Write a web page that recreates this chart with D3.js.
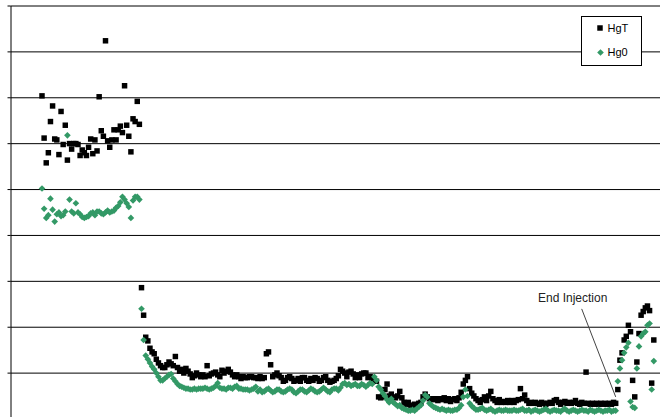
<!DOCTYPE html>
<html>
<head>
<meta charset="utf-8">
<script src="https://cdn.jsdelivr.net/npm/d3@7"></script>
<style>
  body { margin: 0; background: #fff; }
  svg { display: block; font-family: "Liberation Sans", Arial, sans-serif; }
</style>
</head>
<body>
<div id="chart"></div>
<script>
// Mercury concentrations, one value per sample
const hgT = [
  35.1, 30.5, 27.8, 28.9, 32.3, 34.0, 30.4, 30.3, 28.7, 33.4,
  29.8, 31.9, 28.1, 29.9, 29.3, 29.9, 29.9, 29.8, 28.6, 29.2,
  28.9, 28.6, 29.5, 30.4, 28.8, 30.3, 29.1, 35.0, 31.3, 30.7,
  41.1, 30.2, 29.5, 30.3, 31.4, 30.3, 31.4, 31.8, 31.1, 36.2,
  31.9, 30.7, 29.0, 32.6, 32.3, 34.5, 32.0,
  14.2, 11.2, 8.8, 8.4, 7.6, 7.2, 7.0, 6.4, 6.0, 5.7,
  5.5, 5.5, 5.8, 6.1, 5.9, 5.7, 6.7, 5.5, 5.1, 5.3,
  4.9, 5.4, 5.1, 4.8, 4.4, 4.6, 4.9, 4.7, 4.5, 4.7,
  4.5, 5.7, 4.6, 4.8, 4.9, 5.0, 4.7, 4.5, 5.2, 4.9,
  5.1, 5.3, 5.0, 4.7, 4.5, 4.7, 4.5, 4.3, 4.5, 4.4,
  4.4, 4.5, 4.5, 4.4, 4.4,
  4.3, 4.5, 4.3, 4.4, 7.0, 7.2, 5.8, 4.5, 4.7, 4.9,
  4.6, 4.4, 4.0, 4.1, 4.4, 4.5, 4.3, 4.0, 4.1, 4.3,
  4.0, 4.4, 4.4, 4.1, 4.0, 4.3, 4.1, 4.4, 4.3, 4.0,
  4.1, 4.4, 4.5, 4.1, 3.9, 4.0, 4.1, 4.3, 4.6, 5.3,
  5.1, 4.9, 4.5, 5.0, 5.1, 4.8, 4.4, 4.7, 4.4, 4.8,
  4.9, 4.9, 4.4, 4.5, 4.3, 4.1, 4.0, 2.3, 2.2, 2.3,
  3.1, 3.7, 2.4,
  2.6, 2.3, 2.2, 2.4, 2.9, 2.2, 1.7, 1.5, 1.7, 1.4,
  1.3, 1.5, 1.4, 1.6, 1.7, 2.3, 2.6, 2.3, 2.1, 2.1,
  2.0, 2.1, 1.9, 2.1, 2.0, 2.2, 1.9, 2.1, 1.8, 2.0,
  2.1, 1.9, 2.2, 2.8, 3.7, 4.1, 4.5, 3.2, 2.7, 2.4,
  2.1, 1.9, 1.7, 2.0, 2.3, 1.9, 2.4, 2.9, 2.1, 1.9,
  1.7, 2.0, 1.7, 1.8, 1.7, 1.9, 1.7, 1.9, 1.7, 1.9,
  2.0,
  3.2, 2.1, 2.5, 1.9, 1.6, 1.7, 1.6, 1.7, 1.6, 1.5,
  1.7, 1.6, 1.5, 1.6, 1.7, 1.6, 1.9, 2.0, 1.7, 1.5,
  1.7, 1.8, 1.6, 1.7, 1.6, 1.7, 1.9, 1.6, 1.5, 1.7,
  1.6, 5.0, 1.6, 1.5, 1.6, 1.5, 1.6, 1.5, 1.6, 1.5,
  1.6, 1.5, 1.6, 1.5, 1.7, 1.6,
  3.1, 6.3, 7.1, 8.5, 8.9, 10.1, 9.4, 4.1, 2.3, 6.1,
  9.2, 11.2, 11.6, 12.0, 12.2, 11.7, 3.8, 8.5
]

const hg0 = [
  25.0, 22.8, 21.8, 22.1, 23.9, 22.7, 21.4, 22.2, 22.4, 22.0,
  22.1, 22.5, 30.8, 23.8, 22.5, 22.3, 23.4, 22.4, 22.2, 21.9,
  21.8, 21.9, 22.0, 22.3, 22.4, 22.1, 22.5, 22.5, 22.3, 22.2,
  22.4, 22.6, 22.4, 22.5, 22.6, 22.9, 23.1, 23.5, 24.1, 23.8,
  23.4, 23.0, 21.8, 23.7, 24.1, 24.1, 23.8,
  11.9, 8.5, 6.8, 6.4, 6.0, 5.6, 5.3, 4.9, 4.5, 4.1,
  4.1, 4.3, 4.5, 4.7, 4.8, 4.3, 4.0, 3.7, 3.5, 3.4,
  3.3, 3.2, 3.2, 3.1, 3.1, 3.2, 3.1, 3.2, 3.2, 3.2,
  3.3, 3.2, 3.1, 3.2, 3.3, 3.5, 3.8, 3.3, 3.2, 3.2,
  3.1, 3.3, 3.3, 3.2, 3.4, 3.5, 3.2, 3.2, 3.1, 3.1,
  3.1, 3.0, 3.1, 3.2, 3.4,
  2.9, 3.1, 2.8, 2.9, 3.1, 3.2, 3.0, 2.8, 2.9, 3.1,
  3.1, 2.9, 2.8, 2.9, 3.1, 3.2, 3.1, 2.8, 2.7, 2.9,
  3.1, 3.1, 2.9, 2.8, 3.0, 3.2, 3.1, 2.9, 2.8, 2.9,
  3.1, 3.3, 3.1, 2.9, 2.8, 3.1, 3.2, 3.2, 3.0, 3.3,
  3.7, 3.8, 3.6, 3.7, 3.5, 3.6, 3.7, 3.5, 3.5, 3.7,
  3.6, 3.4, 3.6, 3.8, 3.7, 4.5, 4.1, 3.4, 3.1, 2.7,
  2.4, 2.0, 1.7,
  2.1, 1.7, 1.5, 1.3, 1.4, 1.1, 1.0, 0.9, 0.8, 0.8,
  0.9, 0.8, 1.0, 1.2, 1.4, 1.9, 2.5, 2.3, 1.6, 1.4,
  1.2, 1.1, 1.0, 0.9, 1.0, 0.9, 0.8, 0.9, 0.8, 0.8,
  0.9, 0.9, 1.1, 1.4, 2.3, 3.1, 2.4, 1.6, 1.3, 1.1,
  0.9, 0.9, 1.0, 1.1, 0.9, 0.8, 0.9, 1.0, 0.8, 0.7,
  0.8, 0.9, 0.8, 0.8, 0.9, 0.8, 0.8, 0.8, 0.9, 0.8,
  0.8,
  0.9, 1.0, 0.8, 0.8, 0.9, 0.7, 0.8, 0.9, 0.8, 0.7,
  0.8, 0.9, 1.0, 0.8, 0.7, 0.8, 0.9, 0.8, 0.8, 0.7,
  0.9, 1.0, 0.8, 0.7, 0.8, 0.9, 0.8, 0.7, 0.8, 0.9,
  0.8, 0.8, 0.7, 0.9, 0.8, 0.7, 0.8, 0.9, 0.8, 0.7,
  0.8, 0.8, 0.9, 0.7, 0.8, 0.8,
  4.0, 5.4, 6.3, 7.1, 7.7, 8.2, 1.8, 1.2, 1.1, 5.4,
  7.8, 8.9, 9.2, 9.4, 10.1, 10.3, 3.1, 6.2
]

const yTicks = [5, 10, 15, 20, 25, 30, 35, 40, 45]
const seriesNames = ["HgT", "Hg0"]
const endInjectionIndex = 271

const width = 660, height = 417
const plot = { left: 10, top: 5, bottom: 418 }

const xScale = d3.scaleLinear().domain([0, hgT.length - 1]).range([42, 653.8])
const yScale = d3.scaleLinear().domain([0, 45]).range([plot.bottom, plot.top])

const green = "#339966"

const svg = d3.select("#chart")
  .append("svg")
  .attr("width", width)
  .attr("height", height)

// gridlines
svg.append("g")
  .attr("transform", `translate(${plot.left + 0.5},0.5)`)
  .call(d3.axisLeft(yScale).tickValues(yTicks).tickSize(-(width - plot.left)).tickFormat(""))
  .call(g => g.select(".domain").remove())
  .selectAll("line")
  .attr("stroke", "#000")

// left axis with short tick marks
svg.append("g")
  .attr("transform", `translate(${plot.left + 0.5},0.5)`)
  .call(d3.axisLeft(yScale).tickValues([0].concat(yTicks)).tickSize(3).tickSizeOuter(0).tickFormat(""))
  .call(g => g.select(".domain").attr("stroke", "#000"))

const square = d3.symbol(d3.symbolSquare, 30)
const diamond = d3.symbol(d3.symbolSquare, 22)

// HgT squares
svg.append("g")
  .selectAll("path")
  .data(hgT)
  .enter().append("path")
  .attr("d", square)
  .attr("transform", (d, i) => `translate(${xScale(i)},${yScale(d)})`)
  .attr("fill", "#000")

// Hg0 diamonds
svg.append("g")
  .selectAll("path")
  .data(hg0)
  .enter().append("path")
  .attr("d", diamond)
  .attr("transform", (d, i) => `translate(${xScale(i)},${yScale(d)}) rotate(45)`)
  .attr("fill", green)

// End Injection annotation
const endX = xScale(endInjectionIndex), endY = yScale(2.3)
svg.append("line")
  .attr("x1", endX - 34).attr("y1", endY - 88)
  .attr("x2", endX).attr("y2", endY)
  .attr("stroke", "#444")
  .attr("stroke-width", 1)

svg.append("text")
  .attr("x", endX - 43)
  .attr("y", endY - 95)
  .attr("text-anchor", "middle")
  .attr("font-size", 12)
  .attr("fill", "#222")
  .text("End Injection")

// legend
const legend = svg.append("g").attr("transform", "translate(581.5,16.5)")
legend.append("rect")
  .attr("width", 60).attr("height", 49)
  .attr("fill", "#fff").attr("stroke", "#000")

legend.append("path").attr("d", square).attr("transform", "translate(18.5,11.5)").attr("fill", "#000")
legend.append("path").attr("d", diamond).attr("transform", "translate(19,36) rotate(45)").attr("fill", green)

legend.selectAll("text")
  .data(seriesNames)
  .enter().append("text")
  .attr("x", 26)
  .attr("y", (d, i) => 15 + i * 24)
  .attr("font-size", 11)
  .attr("fill", "#000")
  .text(d => d)
</script>
</body>
</html>
